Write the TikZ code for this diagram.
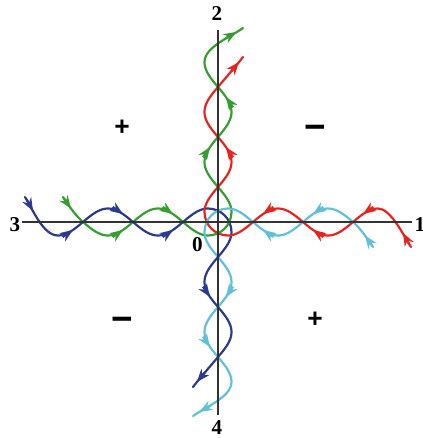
\documentclass[tikz,border=0pt]{standalone}
\usepackage{fontspec}
\setmainfont{Liberation Serif}
\newfontfamily\signfont{Liberation Sans}
\usetikzlibrary{arrows.meta}

\definecolor{cblue}{RGB}{43,57,144}
\definecolor{cred}{RGB}{232,35,30}
\definecolor{cgreen}{RGB}{52,158,48}
\definecolor{ccyan}{RGB}{96,192,214}

\tikzset{
  curve/.style={line width=1.25pt, line cap=round},
  flowtip/.style={line width=1.25pt, -{Stealth[length=2.6mm,width=2mm]}},
  axis/.style={line width=0.8pt, black!80},
  lbl/.style={font=\fontsize{12}{14}\selectfont\bfseries},
  plus/.style={font=\signfont\fontsize{15}{17}\selectfont\bfseries},
  minus/.style={font=\signfont\fontsize{21}{23}\selectfont\bfseries}
}

\begin{document}
\begin{tikzpicture}
\useasboundingbox (-4.36,-4.32) rectangle (4.10,4.44);

% 3 -> 4
\draw[curve, cblue] (-3.86,0.5) .. controls (-3.7,0.25) and (-3.5,-0.27) .. (-3.2,-0.27)
  -- plot[smooth, domain=-3.15:-0.2, samples=60] (\x,{0.27*sin(180*(\x+0.7))})
  .. controls (0.06,0.27) and (0.27,0.06) .. (0.27,-0.2)
  -- plot[smooth, domain=-0.25:-2.7, samples=50] ({0.27*sin(180*(\x+0.7))},\x)
  .. controls (-0.2,-2.94) and (-0.38,-3.14) .. (-0.5,-3.3);
\foreach \xa/\ya/\xb/\yb in {-3.82/0.44/-3.70/0.22, -3.106/-0.301/-2.9/-0.159,
    -2.106/0.301/-1.9/0.159, -1.106/-0.301/-0.9/-0.159,
    -0.301/-1.294/-0.159/-1.5, -0.261/-3.007/-0.42/-3.2}
  \draw[flowtip, cblue] (\xa,\ya) -- (\xb,\yb);

% 1 -> 2
\draw[curve, cred] (3.86,-0.5) .. controls (3.7,-0.25) and (3.45,0.27) .. (3.2,0.27)
  -- plot[smooth, domain=3.15:0.2, samples=60] (\x,{0.27*sin(180*(\x-0.7))})
  .. controls (-0.06,-0.27) and (-0.27,-0.06) .. (-0.27,0.2)
  -- plot[smooth, domain=0.25:2.7, samples=50] ({0.27*sin(180*(\x-0.7))},\x)
  .. controls (0.2,2.94) and (0.38,3.14) .. (0.5,3.3);
\foreach \xa/\ya/\xb/\yb in {3.82/-0.44/3.70/-0.22, 3.106/0.301/2.9/0.159,
    2.106/-0.301/1.9/-0.159, 1.106/0.301/0.9/0.159,
    0.301/1.294/0.159/1.5, 0.261/3.007/0.42/3.2}
  \draw[flowtip, cred] (\xa,\ya) -- (\xb,\yb);

% 3 -> 2
\draw[curve, cgreen] (-3.1,0.5) .. controls (-2.98,0.32) and (-2.85,0.13) .. (-2.7,0)
  -- plot[smooth, domain=-2.65:-0.2, samples=50] (\x,{-0.27*sin(180*(\x+0.7))})
  .. controls (0.06,-0.27) and (0.27,-0.06) .. (0.27,0.2)
  -- plot[smooth, domain=0.25:3.2, samples=60] ({-0.27*sin(180*(\x-0.7))},\x)
  .. controls (-0.27,3.5) and (0.25,3.7) .. (0.5,3.88);
\foreach \xa/\ya/\xb/\yb in {-3.085/0.474/-2.94/0.27, -2.106/-0.301/-1.9/-0.159,
    -1.106/0.301/-0.9/0.159, -0.301/1.294/-0.159/1.5,
    0.301/2.294/0.159/2.5, 0.154/3.674/0.37/3.80}
  \draw[flowtip, cgreen] (\xa,\ya) -- (\xb,\yb);

% 1 -> 4
\draw[curve, ccyan] (3.1,-0.5) .. controls (2.98,-0.32) and (2.85,-0.13) .. (2.7,0)
  -- plot[smooth, domain=2.65:0.2, samples=50] (\x,{-0.27*sin(180*(\x-0.7))})
  .. controls (-0.06,0.27) and (-0.27,0.06) .. (-0.27,-0.2)
  -- plot[smooth, domain=-0.25:-3.2, samples=60] ({-0.27*sin(180*(\x+0.7))},\x)
  .. controls (0.27,-3.5) and (-0.25,-3.7) .. (-0.5,-3.88);
\foreach \xa/\ya/\xb/\yb in {3.085/-0.474/2.94/-0.27, 2.106/0.301/1.9/0.159,
    1.106/-0.301/0.9/-0.159, 0.301/-1.294/0.159/-1.5,
    -0.301/-2.294/-0.159/-2.5, -0.154/-3.674/-0.37/-3.80}
  \draw[flowtip, ccyan] (\xa,\ya) -- (\xb,\yb);

% axes
\coordinate (xl) at (-3.92,0);
\coordinate (xr) at (3.88,0);
\coordinate (yt) at (0,3.84);
\coordinate (yb) at (0,-3.86);
\draw[axis] (xl) -- (xr);
\draw[axis] (yb) -- (yt);

\node[lbl] (one) at (4.04,-0.06) {1};
\node[lbl] (two) at (-0.02,4.16) {2};
\node[lbl] (three) at (-4.06,-0.06) {3};
\node[lbl] (four) at (-0.02,-4.12) {4};
\node[lbl] (zero) at (-0.41,-0.45) {0};

\node[plus] (ptl) at (-1.92,1.88) {+};
\node[plus] (pbr) at (1.94,-1.95) {+};
\node[minus] (mtr) at (1.94,1.8) {−};
\node[minus] (mbl) at (-1.92,-2.04) {−};

\end{tikzpicture}
\end{document}
